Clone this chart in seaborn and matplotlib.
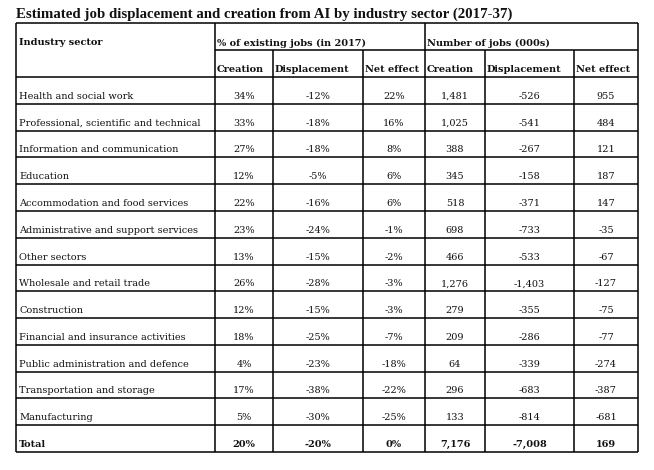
import matplotlib.pyplot as plt
import seaborn as sns

title = "Estimated job displacement and creation from AI by industry sector (2017-37)"
group_labels = ["% of existing jobs (in 2017)", "Number of jobs (000s)"]
sub_labels = ["Creation", "Displacement", "Net effect"]

sectors = [
    "Health and social work",
    "Professional, scientific and technical",
    "Information and communication",
    "Education",
    "Accommodation and food services",
    "Administrative and support services",
    "Other sectors",
    "Wholesale and retail trade",
    "Construction",
    "Financial and insurance activities",
    "Public administration and defence",
    "Transportation and storage",
    "Manufacturing",
]
pct_creation = [34, 33, 27, 12, 22, 23, 13, 26, 12, 18, 4, 17, 5]
pct_displacement = [-12, -18, -18, -5, -16, -24, -15, -28, -15, -25, -23, -38, -30]
pct_net = [22, 16, 8, 6, 6, -1, -2, -3, -3, -7, -18, -22, -25]
jobs_creation = [1481, 1025, 388, 345, 518, 698, 466, 1276, 279, 209, 64, 296, 133]
jobs_displacement = [-526, -541, -267, -158, -371, -733, -533, -1403, -355, -286, -339, -683, -814]
jobs_net = [955, 484, 121, 187, 147, -35, -67, -127, -75, -77, -274, -387, -681]
total = ["Total", "20%", "-20%", "0%", "7,176", "-7,008", "169"]

# layout (pixel coordinates of the grid)
col_edges = [16, 215, 273, 363, 425, 485, 574, 638]
top, split, head_bottom, bottom = 23, 50, 77, 452

sns.set_theme(style="white")
plt.rcParams["font.family"] = ["DejaVu Serif"]

fig = plt.figure(figsize=(6.54, 4.70), dpi=100)
ax = fig.add_axes([0, 0, 1, 1])
ax.set_xlim(0, 654)
ax.set_ylim(470, 0)
ax.axis("off")

body_size = 7.0
head_size = 7.0
lw = 1.1
ink = "#111111"

rows = []
for i, s in enumerate(sectors):
    rows.append([
        s,
        f"{pct_creation[i]}%",
        f"{pct_displacement[i]}%",
        f"{pct_net[i]}%",
        f"{jobs_creation[i]:,}",
        f"{jobs_displacement[i]:,}",
        f"{jobs_net[i]:,}",
    ])
rows.append(total)

n = len(rows)
row_h = (bottom - head_bottom) / n
row_edges = [head_bottom + k * row_h for k in range(n + 1)]

# title
ax.text(col_edges[0], 18, title, fontsize=10.7, fontweight="bold",
        family=["Liberation Serif", "DejaVu Serif"],
        ha="left", va="baseline", color=ink)

# grid lines
ax.hlines([top, head_bottom] + row_edges[1:], col_edges[0], col_edges[-1],
          color="black", lw=lw)
ax.hlines(split, col_edges[1], col_edges[-1], color="black", lw=lw)
ax.vlines([col_edges[0], col_edges[1], col_edges[4], col_edges[-1]], top, bottom,
          color="black", lw=lw)
ax.vlines([col_edges[2], col_edges[3], col_edges[5], col_edges[6]], split, bottom,
          color="black", lw=lw)

# header
ax.text(col_edges[0] + 3, 45, "Industry sector", fontsize=head_size,
        fontweight="bold", ha="left", va="baseline", color=ink)
for g, x0 in zip(group_labels, [col_edges[1], col_edges[4]]):
    ax.text(x0 + 2, 46, g, fontsize=head_size, fontweight="bold",
            ha="left", va="baseline", color=ink)
for j in range(6):
    ax.text(col_edges[j + 1] + 2, 72, sub_labels[j % 3], fontsize=head_size,
            fontweight="bold", ha="left", va="baseline", color=ink)

# body
for r, row in enumerate(rows):
    y = row_edges[r + 1] - 5
    weight = "bold" if r == n - 1 else "normal"
    ax.text(col_edges[0] + 3, y, row[0], fontsize=body_size, fontweight=weight,
            ha="left", va="baseline", color=ink)
    for j in range(1, 7):
        xc = (col_edges[j] + col_edges[j + 1]) / 2
        ax.text(xc, y, row[j], fontsize=body_size, fontweight=weight,
                ha="center", va="baseline", color=ink)

fig.savefig("out.png", dpi=100, facecolor="white")
